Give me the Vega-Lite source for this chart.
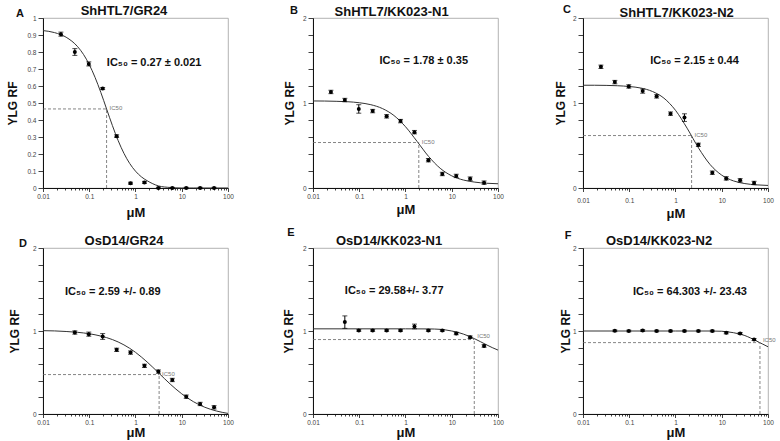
{
  "$schema": "https://vega.github.io/schema/vega-lite/v6.json",
  "background": "white",
  "padding": {"left": 6, "top": 3, "right": 5, "bottom": 2},
  "datasets": {
    "points": [
      {"p":"A","x":0.0244,"y":0.905,"lo":0.893,"hi":0.917},
      {"p":"A","x":0.0488,"y":0.8,"lo":0.78,"hi":0.82},
      {"p":"A","x":0.0977,"y":0.73,"lo":0.718,"hi":0.742},
      {"p":"A","x":0.195,"y":0.585,"lo":0.579,"hi":0.591},
      {"p":"A","x":0.391,"y":0.305,"lo":0.297,"hi":0.313},
      {"p":"A","x":0.781,"y":0.028,"lo":0.022,"hi":0.034},
      {"p":"A","x":1.5625,"y":0.033,"lo":0.027,"hi":0.039},
      {"p":"A","x":3.125,"y":0,"lo":-0.004,"hi":0.004},
      {"p":"A","x":6.25,"y":0,"lo":-0.004,"hi":0.004},
      {"p":"A","x":12.5,"y":0,"lo":-0.004,"hi":0.004},
      {"p":"A","x":25,"y":0,"lo":-0.004,"hi":0.004},
      {"p":"A","x":50,"y":0,"lo":-0.004,"hi":0.004},
      {"p":"B","x":0.0244,"y":1.13,"lo":1.11,"hi":1.15},
      {"p":"B","x":0.0488,"y":1.035,"lo":1.015,"hi":1.055},
      {"p":"B","x":0.0977,"y":0.93,"lo":0.88,"hi":0.98},
      {"p":"B","x":0.195,"y":0.905,"lo":0.885,"hi":0.925},
      {"p":"B","x":0.391,"y":0.843,"lo":0.823,"hi":0.863},
      {"p":"B","x":0.781,"y":0.787,"lo":0.767,"hi":0.807},
      {"p":"B","x":1.5625,"y":0.657,"lo":0.637,"hi":0.677},
      {"p":"B","x":3.125,"y":0.327,"lo":0.307,"hi":0.347},
      {"p":"B","x":6.25,"y":0.165,"lo":0.145,"hi":0.185},
      {"p":"B","x":12.5,"y":0.142,"lo":0.122,"hi":0.162},
      {"p":"B","x":25,"y":0.11,"lo":0.09,"hi":0.13},
      {"p":"B","x":50,"y":0.063,"lo":0.043,"hi":0.083},
      {"p":"C","x":0.0244,"y":1.426,"lo":1.406,"hi":1.446},
      {"p":"C","x":0.0488,"y":1.246,"lo":1.226,"hi":1.266},
      {"p":"C","x":0.0977,"y":1.195,"lo":1.175,"hi":1.215},
      {"p":"C","x":0.195,"y":1.14,"lo":1.115,"hi":1.165},
      {"p":"C","x":0.391,"y":1.078,"lo":1.058,"hi":1.098},
      {"p":"C","x":0.781,"y":0.875,"lo":0.855,"hi":0.895},
      {"p":"C","x":1.5625,"y":0.828,"lo":0.783,"hi":0.873},
      {"p":"C","x":3.125,"y":0.508,"lo":0.488,"hi":0.528},
      {"p":"C","x":6.25,"y":0.18,"lo":0.16,"hi":0.2},
      {"p":"C","x":12.5,"y":0.113,"lo":0.093,"hi":0.133},
      {"p":"C","x":25,"y":0.09,"lo":0.07,"hi":0.11},
      {"p":"C","x":50,"y":0.059,"lo":0.039,"hi":0.079},
      {"p":"D","x":0.0488,"y":0.982,"lo":0.962,"hi":1.002},
      {"p":"D","x":0.0977,"y":0.962,"lo":0.937,"hi":0.987},
      {"p":"D","x":0.195,"y":0.934,"lo":0.899,"hi":0.969},
      {"p":"D","x":0.391,"y":0.773,"lo":0.753,"hi":0.793},
      {"p":"D","x":0.781,"y":0.74,"lo":0.72,"hi":0.76},
      {"p":"D","x":1.5625,"y":0.58,"lo":0.56,"hi":0.6},
      {"p":"D","x":3.125,"y":0.511,"lo":0.491,"hi":0.531},
      {"p":"D","x":6.25,"y":0.41,"lo":0.39,"hi":0.43},
      {"p":"D","x":12.5,"y":0.209,"lo":0.189,"hi":0.229},
      {"p":"D","x":25,"y":0.121,"lo":0.101,"hi":0.141},
      {"p":"D","x":50,"y":0.08,"lo":0.06,"hi":0.1},
      {"p":"E","x":0.0488,"y":1.107,"lo":1.032,"hi":1.182},
      {"p":"E","x":0.0977,"y":1.006,"lo":0.996,"hi":1.016},
      {"p":"E","x":0.195,"y":1.006,"lo":0.996,"hi":1.016},
      {"p":"E","x":0.391,"y":1.006,"lo":0.996,"hi":1.016},
      {"p":"E","x":0.781,"y":1.006,"lo":0.996,"hi":1.016},
      {"p":"E","x":1.5625,"y":1.055,"lo":1.027,"hi":1.083},
      {"p":"E","x":3.125,"y":1.006,"lo":0.996,"hi":1.016},
      {"p":"E","x":6.25,"y":1.006,"lo":0.996,"hi":1.016},
      {"p":"E","x":12.5,"y":0.97,"lo":0.955,"hi":0.985},
      {"p":"E","x":25,"y":0.925,"lo":0.91,"hi":0.94},
      {"p":"E","x":50,"y":0.82,"lo":0.805,"hi":0.835},
      {"p":"F","x":0.0488,"y":1.002,"lo":0.992,"hi":1.012},
      {"p":"F","x":0.0977,"y":1.0,"lo":0.99,"hi":1.01},
      {"p":"F","x":0.195,"y":1.006,"lo":0.996,"hi":1.016},
      {"p":"F","x":0.391,"y":1.0,"lo":0.99,"hi":1.01},
      {"p":"F","x":0.781,"y":1.0,"lo":0.99,"hi":1.01},
      {"p":"F","x":1.5625,"y":1.0,"lo":0.99,"hi":1.01},
      {"p":"F","x":3.125,"y":1.0,"lo":0.99,"hi":1.01},
      {"p":"F","x":6.25,"y":1.0,"lo":0.99,"hi":1.01},
      {"p":"F","x":12.5,"y":0.978,"lo":0.966,"hi":0.99},
      {"p":"F","x":25,"y":0.97,"lo":0.958,"hi":0.982},
      {"p":"F","x":50,"y":0.897,"lo":0.885,"hi":0.909}
    ],
    "curve": [
      {"p":"A","x":0.01,"y":0.926},{"p":"A","x":0.0178,"y":0.914},{"p":"A","x":0.0316,"y":0.887},{"p":"A","x":0.0562,"y":0.831},
      {"p":"A","x":0.075,"y":0.786},{"p":"A","x":0.1,"y":0.726},{"p":"A","x":0.1334,"y":0.651},{"p":"A","x":0.178,"y":0.562},
      {"p":"A","x":0.237,"y":0.465},{"p":"A","x":0.316,"y":0.368},{"p":"A","x":0.4217,"y":0.279},{"p":"A","x":0.562,"y":0.204},
      {"p":"A","x":0.75,"y":0.144},{"p":"A","x":1,"y":0.099},{"p":"A","x":1.334,"y":0.066},{"p":"A","x":1.78,"y":0.043},
      {"p":"A","x":2.371,"y":0.025},{"p":"A","x":3.16,"y":0.012},{"p":"A","x":5.62,"y":0.003},{"p":"A","x":10,"y":0},
      {"p":"A","x":17.8,"y":0},{"p":"A","x":31.6,"y":0},{"p":"A","x":56.2,"y":0},{"p":"A","x":100,"y":0},
      {"p":"B","x":0.01,"y":1.024},{"p":"B","x":0.0178,"y":1.023},{"p":"B","x":0.0316,"y":1.02},{"p":"B","x":0.0562,"y":1.015},
      {"p":"B","x":0.1,"y":1.003},{"p":"B","x":0.178,"y":0.98},{"p":"B","x":0.316,"y":0.935},{"p":"B","x":0.562,"y":0.853},
      {"p":"B","x":1,"y":0.721},{"p":"B","x":1.78,"y":0.548},{"p":"B","x":3.16,"y":0.371},{"p":"B","x":5.62,"y":0.232},
      {"p":"B","x":10,"y":0.143},{"p":"B","x":17.8,"y":0.094},{"p":"B","x":31.6,"y":0.069},{"p":"B","x":56.2,"y":0.056},
      {"p":"B","x":100,"y":0.05},
      {"p":"C","x":0.01,"y":1.209},{"p":"C","x":0.0178,"y":1.209},{"p":"C","x":0.0316,"y":1.207},{"p":"C","x":0.0562,"y":1.203},
      {"p":"C","x":0.1,"y":1.194},{"p":"C","x":0.178,"y":1.176},{"p":"C","x":0.316,"y":1.136},{"p":"C","x":0.562,"y":1.057},
      {"p":"C","x":1,"y":0.914},{"p":"C","x":1.78,"y":0.704},{"p":"C","x":3.16,"y":0.469},{"p":"C","x":5.62,"y":0.275},
      {"p":"C","x":10,"y":0.151},{"p":"C","x":17.8,"y":0.084},{"p":"C","x":31.6,"y":0.052},{"p":"C","x":56.2,"y":0.037},
      {"p":"C","x":100,"y":0.03},
      {"p":"D","x":0.01,"y":1.004},{"p":"D","x":0.0178,"y":1.001},{"p":"D","x":0.0316,"y":0.994},{"p":"D","x":0.0562,"y":0.984},
      {"p":"D","x":0.1,"y":0.967},{"p":"D","x":0.178,"y":0.939},{"p":"D","x":0.316,"y":0.897},{"p":"D","x":0.562,"y":0.833},
      {"p":"D","x":1,"y":0.743},{"p":"D","x":1.78,"y":0.627},{"p":"D","x":3.16,"y":0.495},{"p":"D","x":5.62,"y":0.361},
      {"p":"D","x":10,"y":0.243},{"p":"D","x":17.8,"y":0.149},{"p":"D","x":31.6,"y":0.081},{"p":"D","x":56.2,"y":0.036},
      {"p":"D","x":100,"y":0.007},
      {"p":"E","x":0.01,"y":1.026},{"p":"E","x":0.1,"y":1.026},{"p":"E","x":1,"y":1.026},{"p":"E","x":3.16,"y":1.025},
      {"p":"E","x":5.62,"y":1.02},{"p":"E","x":10,"y":1.0},{"p":"E","x":13.3,"y":0.985},{"p":"E","x":17.8,"y":0.963},
      {"p":"E","x":23.7,"y":0.937},{"p":"E","x":31.6,"y":0.905},{"p":"E","x":42.2,"y":0.87},{"p":"E","x":56.2,"y":0.834},
      {"p":"E","x":75,"y":0.8},{"p":"E","x":100,"y":0.77},
      {"p":"F","x":0.01,"y":1.0},{"p":"F","x":0.1,"y":1.0},{"p":"F","x":1,"y":1.0},{"p":"F","x":5.62,"y":1.0},
      {"p":"F","x":10,"y":0.997},{"p":"F","x":13.3,"y":0.99},{"p":"F","x":17.8,"y":0.98},{"p":"F","x":23.7,"y":0.965},
      {"p":"F","x":31.6,"y":0.945},{"p":"F","x":42.2,"y":0.915},{"p":"F","x":56.2,"y":0.88},{"p":"F","x":75,"y":0.845},
      {"p":"F","x":100,"y":0.81}
    ],
    "ic50": [
      {"p":"A","x":0.237,"y":0.465,"label":"IC50"},
      {"p":"B","x":1.94,"y":0.535,"label":"IC50"},
      {"p":"C","x":2.23,"y":0.617,"label":"IC50"},
      {"p":"D","x":3.24,"y":0.475,"label":"IC50"},
      {"p":"E","x":30.7,"y":0.897,"label":"IC50"},
      {"p":"F","x":67,"y":0.86,"label":"IC50"}
    ],
    "notes": [
      {"p":"A","letter":"A","name":"ShHTL7/GR24","note":"IC₅₀ = 0.27 ± 0.021","x":0.24,"y":0.735},
      {"p":"B","letter":"B","name":"ShHTL7/KK023-N1","note":"IC₅₀ = 1.78 ± 0.35","x":0.274,"y":1.49},
      {"p":"C","letter":"C","name":"ShHTL7/KK023-N2","note":"IC₅₀ =  2.15 ± 0.44","x":0.285,"y":1.5},
      {"p":"D","letter":"D","name":"OsD14/GR24","note":"IC₅₀ = 2.59 +/- 0.89","x":0.0298,"y":1.465},
      {"p":"E","letter":"E","name":"OsD14/KK023-N1","note":"IC₅₀ = 29.58+/- 3.77","x":0.0488,"y":1.48},
      {"p":"F","letter":"F","name":"OsD14/KK023-N2","note":"IC₅₀ = 64.303 +/- 23.43","x":0.1205,"y":1.475}
    ]
  },
  "columns": 3,
  "spacing": {"row": 60, "column": 85},
  "bounds": "flush",
  "concat": [
    {
      "width": 185, "height": 170,
      "encoding": {
        "x": {"field": "x", "type": "quantitative", "scale": {"type": "log", "domain": [0.01, 100]},
          "axis": {"title": "μM", "titlePadding": 6, "values": [0.01,0.02,0.03,0.04,0.05,0.06,0.07,0.08,0.09,0.1,0.2,0.3,0.4,0.5,0.6,0.7,0.8,0.9,1,2,3,4,5,6,7,8,9,10,20,30,40,50,60,70,80,90,100], "format": "~g", "labelExpr": "indexof([0.01,0.1,1,10,100], datum.value) >= 0 ? datum.label : ''", "tickSize": {"condition": {"test": "indexof([0.01,0.1,1,10,100], datum.value) >= 0", "value": 3.5}, "value": 2}}},
        "y": {"field": "y", "type": "quantitative", "scale": {"domain": [0, 1], "nice": false},
          "axis": {"title": "YLG RF", "titlePadding": 7, "values": [0,0.1,0.2,0.3,0.4,0.5,0.6,0.7,0.8,0.9,1], "format": "~g"}}
      },
      "layer": [
        {"data": {"name": "curve"}, "transform": [{"filter": "datum.p === 'A'"}], "mark": {"type": "line", "interpolate": "monotone", "color": "#333", "strokeWidth": 1}},
        {"data": {"name": "ic50"}, "transform": [{"filter": "datum.p === 'A'"}], "mark": {"type": "rule", "strokeDash": [3, 2], "color": "#666", "strokeWidth": 0.8}, "encoding": {"x": {"datum": 0.01}, "x2": {"field": "x"}}},
        {"data": {"name": "ic50"}, "transform": [{"filter": "datum.p === 'A'"}], "mark": {"type": "rule", "strokeDash": [3, 2], "color": "#666", "strokeWidth": 0.8}, "encoding": {"y": {"datum": 0}, "y2": {"field": "y"}}},
        {"data": {"name": "ic50"}, "transform": [{"filter": "datum.p === 'A'"}], "mark": {"type": "text", "align": "left", "baseline": "middle", "dx": 3, "dy": -1, "fontSize": 6, "color": "#777"}, "encoding": {"text": {"field": "label"}}},
        {"data": {"name": "points"}, "transform": [{"filter": "datum.p === 'A'"}], "mark": {"type": "errorbar", "ticks": {"size": 5}, "color": "black", "thickness": 1}, "encoding": {"y": {"field": "lo", "type": "quantitative"}, "y2": {"field": "hi"}}},
        {"data": {"name": "points"}, "transform": [{"filter": "datum.p === 'A'"}], "mark": {"type": "circle", "size": 16, "color": "black", "opacity": 1}},
        {"data": {"name": "notes"}, "transform": [{"filter": "datum.p === 'A'"}], "mark": {"type": "text", "align": "left", "baseline": "middle", "fontSize": 11, "fontWeight": "bold", "color": "#111"}, "encoding": {"text": {"field": "note"}}},
        {"data": {"name": "notes"}, "transform": [{"filter": "datum.p === 'A'"}], "mark": {"type": "text", "align": "center", "baseline": "middle", "fontSize": 13, "fontWeight": "bold", "color": "#111"}, "encoding": {"x": {"datum": 0.564, "type": "quantitative"}, "y": {"datum": 1.041, "type": "quantitative"}, "text": {"field": "name"}}},
        {"data": {"name": "notes"}, "transform": [{"filter": "datum.p === 'A'"}], "mark": {"type": "text", "align": "center", "baseline": "middle", "fontSize": 11, "fontWeight": "bold", "color": "#111"}, "encoding": {"x": {"datum": 0.00318, "type": "quantitative"}, "y": {"datum": 1.024, "type": "quantitative"}, "text": {"field": "letter"}}}
      ]
    },
    {
      "width": 185, "height": 170,
      "encoding": {
        "x": {"field": "x", "type": "quantitative", "scale": {"type": "log", "domain": [0.01, 100]},
          "axis": {"title": "μM", "titlePadding": 3, "values": [0.01,0.02,0.03,0.04,0.05,0.06,0.07,0.08,0.09,0.1,0.2,0.3,0.4,0.5,0.6,0.7,0.8,0.9,1,2,3,4,5,6,7,8,9,10,20,30,40,50,60,70,80,90,100], "format": "~g", "labelExpr": "indexof([0.01,0.1,1,10,100], datum.value) >= 0 ? datum.label : ''", "tickSize": {"condition": {"test": "indexof([0.01,0.1,1,10,100], datum.value) >= 0", "value": 3.5}, "value": 2}}},
        "y": {"field": "y", "type": "quantitative", "scale": {"domain": [0, 2], "nice": false},
          "axis": {"title": "YLG RF", "titlePadding": 6, "values": [0,0.2,0.4,0.6,0.8,1,1.2,1.4,1.6,1.8,2], "format": "~g", "labelExpr": "datum.value % 1 === 0 ? datum.label : ''"}}
      },
      "layer": [
        {"data": {"name": "curve"}, "transform": [{"filter": "datum.p === 'B'"}], "mark": {"type": "line", "interpolate": "monotone", "color": "#333", "strokeWidth": 1}},
        {"data": {"name": "ic50"}, "transform": [{"filter": "datum.p === 'B'"}], "mark": {"type": "rule", "strokeDash": [3, 2], "color": "#666", "strokeWidth": 0.8}, "encoding": {"x": {"datum": 0.01}, "x2": {"field": "x"}}},
        {"data": {"name": "ic50"}, "transform": [{"filter": "datum.p === 'B'"}], "mark": {"type": "rule", "strokeDash": [3, 2], "color": "#666", "strokeWidth": 0.8}, "encoding": {"y": {"datum": 0}, "y2": {"field": "y"}}},
        {"data": {"name": "ic50"}, "transform": [{"filter": "datum.p === 'B'"}], "mark": {"type": "text", "align": "left", "baseline": "middle", "dx": 3, "dy": -1, "fontSize": 6, "color": "#777"}, "encoding": {"text": {"field": "label"}}},
        {"data": {"name": "points"}, "transform": [{"filter": "datum.p === 'B'"}], "mark": {"type": "errorbar", "ticks": {"size": 5}, "color": "black", "thickness": 1}, "encoding": {"y": {"field": "lo", "type": "quantitative"}, "y2": {"field": "hi"}}},
        {"data": {"name": "points"}, "transform": [{"filter": "datum.p === 'B'"}], "mark": {"type": "circle", "size": 16, "color": "black", "opacity": 1}},
        {"data": {"name": "notes"}, "transform": [{"filter": "datum.p === 'B'"}], "mark": {"type": "text", "align": "left", "baseline": "middle", "fontSize": 11, "fontWeight": "bold", "color": "#111"}, "encoding": {"text": {"field": "note"}}},
        {"data": {"name": "notes"}, "transform": [{"filter": "datum.p === 'B'"}], "mark": {"type": "text", "align": "center", "baseline": "middle", "fontSize": 13, "fontWeight": "bold", "color": "#111"}, "encoding": {"x": {"datum": 0.502, "type": "quantitative"}, "y": {"datum": 2.075, "type": "quantitative"}, "text": {"field": "name"}}},
        {"data": {"name": "notes"}, "transform": [{"filter": "datum.p === 'B'"}], "mark": {"type": "text", "align": "center", "baseline": "middle", "fontSize": 11, "fontWeight": "bold", "color": "#111"}, "encoding": {"x": {"datum": 0.0039, "type": "quantitative"}, "y": {"datum": 2.08, "type": "quantitative"}, "text": {"field": "letter"}}}
      ]
    },
    {
      "width": 185, "height": 170,
      "encoding": {
        "x": {"field": "x", "type": "quantitative", "scale": {"type": "log", "domain": [0.01, 100]},
          "axis": {"title": "μM", "titlePadding": 3, "labelPadding": 6, "values": [0.01,0.02,0.03,0.04,0.05,0.06,0.07,0.08,0.09,0.1,0.2,0.3,0.4,0.5,0.6,0.7,0.8,0.9,1,2,3,4,5,6,7,8,9,10,20,30,40,50,60,70,80,90,100], "format": "~g", "labelExpr": "indexof([0.01,0.1,1,10,100], datum.value) >= 0 ? datum.label : ''", "tickSize": {"condition": {"test": "indexof([0.01,0.1,1,10,100], datum.value) >= 0", "value": 3.5}, "value": 2}}},
        "y": {"field": "y", "type": "quantitative", "scale": {"domain": [0, 2], "nice": false},
          "axis": {"title": "YLG RF", "titlePadding": 5, "values": [0,0.2,0.4,0.6,0.8,1,1.2,1.4,1.6,1.8,2], "format": "~g", "labelExpr": "datum.value % 1 === 0 ? datum.label : ''"}}
      },
      "layer": [
        {"data": {"name": "curve"}, "transform": [{"filter": "datum.p === 'C'"}], "mark": {"type": "line", "interpolate": "monotone", "color": "#333", "strokeWidth": 1}},
        {"data": {"name": "ic50"}, "transform": [{"filter": "datum.p === 'C'"}], "mark": {"type": "rule", "strokeDash": [3, 2], "color": "#666", "strokeWidth": 0.8}, "encoding": {"x": {"datum": 0.01}, "x2": {"field": "x"}}},
        {"data": {"name": "ic50"}, "transform": [{"filter": "datum.p === 'C'"}], "mark": {"type": "rule", "strokeDash": [3, 2], "color": "#666", "strokeWidth": 0.8}, "encoding": {"y": {"datum": 0}, "y2": {"field": "y"}}},
        {"data": {"name": "ic50"}, "transform": [{"filter": "datum.p === 'C'"}], "mark": {"type": "text", "align": "left", "baseline": "middle", "dx": 3, "dy": -1, "fontSize": 6, "color": "#777"}, "encoding": {"text": {"field": "label"}}},
        {"data": {"name": "points"}, "transform": [{"filter": "datum.p === 'C'"}], "mark": {"type": "errorbar", "ticks": {"size": 5}, "color": "black", "thickness": 1}, "encoding": {"y": {"field": "lo", "type": "quantitative"}, "y2": {"field": "hi"}}},
        {"data": {"name": "points"}, "transform": [{"filter": "datum.p === 'C'"}], "mark": {"type": "circle", "size": 16, "color": "black", "opacity": 1}},
        {"data": {"name": "notes"}, "transform": [{"filter": "datum.p === 'C'"}], "mark": {"type": "text", "align": "left", "baseline": "middle", "fontSize": 11, "fontWeight": "bold", "color": "#111"}, "encoding": {"text": {"field": "note"}}},
        {"data": {"name": "notes"}, "transform": [{"filter": "datum.p === 'C'"}], "mark": {"type": "text", "align": "center", "baseline": "middle", "fontSize": 13, "fontWeight": "bold", "color": "#111"}, "encoding": {"x": {"datum": 1.06, "type": "quantitative"}, "y": {"datum": 2.062, "type": "quantitative"}, "text": {"field": "name"}}},
        {"data": {"name": "notes"}, "transform": [{"filter": "datum.p === 'C'"}], "mark": {"type": "text", "align": "center", "baseline": "middle", "fontSize": 11, "fontWeight": "bold", "color": "#111"}, "encoding": {"x": {"datum": 0.0045, "type": "quantitative"}, "y": {"datum": 2.094, "type": "quantitative"}, "text": {"field": "letter"}}}
      ]
    },
    {
      "width": 185, "height": 166,
      "encoding": {
        "x": {"field": "x", "type": "quantitative", "scale": {"type": "log", "domain": [0.01, 100]},
          "axis": {"title": "μM", "titlePadding": 0, "values": [0.01,0.02,0.03,0.04,0.05,0.06,0.07,0.08,0.09,0.1,0.2,0.3,0.4,0.5,0.6,0.7,0.8,0.9,1,2,3,4,5,6,7,8,9,10,20,30,40,50,60,70,80,90,100], "format": "~g", "labelExpr": "indexof([0.01,0.1,1,10,100], datum.value) >= 0 ? datum.label : ''", "tickSize": {"condition": {"test": "indexof([0.01,0.1,1,10,100], datum.value) >= 0", "value": 3.5}, "value": 2}}},
        "y": {"field": "y", "type": "quantitative", "scale": {"domain": [0, 2], "nice": false},
          "axis": {"title": "YLG RF", "titlePadding": 11, "values": [0,0.2,0.4,0.6,0.8,1,1.2,1.4,1.6,1.8,2], "format": "~g", "labelExpr": "datum.value % 1 === 0 ? datum.label : ''"}}
      },
      "layer": [
        {"data": {"name": "curve"}, "transform": [{"filter": "datum.p === 'D'"}], "mark": {"type": "line", "interpolate": "monotone", "color": "#333", "strokeWidth": 1}},
        {"data": {"name": "ic50"}, "transform": [{"filter": "datum.p === 'D'"}], "mark": {"type": "rule", "strokeDash": [3, 2], "color": "#666", "strokeWidth": 0.8}, "encoding": {"x": {"datum": 0.01}, "x2": {"field": "x"}}},
        {"data": {"name": "ic50"}, "transform": [{"filter": "datum.p === 'D'"}], "mark": {"type": "rule", "strokeDash": [3, 2], "color": "#666", "strokeWidth": 0.8}, "encoding": {"y": {"datum": 0}, "y2": {"field": "y"}}},
        {"data": {"name": "ic50"}, "transform": [{"filter": "datum.p === 'D'"}], "mark": {"type": "text", "align": "left", "baseline": "middle", "dx": 3, "dy": -1, "fontSize": 6, "color": "#777"}, "encoding": {"text": {"field": "label"}}},
        {"data": {"name": "points"}, "transform": [{"filter": "datum.p === 'D'"}], "mark": {"type": "errorbar", "ticks": {"size": 5}, "color": "black", "thickness": 1}, "encoding": {"y": {"field": "lo", "type": "quantitative"}, "y2": {"field": "hi"}}},
        {"data": {"name": "points"}, "transform": [{"filter": "datum.p === 'D'"}], "mark": {"type": "circle", "size": 16, "color": "black", "opacity": 1}},
        {"data": {"name": "notes"}, "transform": [{"filter": "datum.p === 'D'"}], "mark": {"type": "text", "align": "left", "baseline": "middle", "fontSize": 11, "fontWeight": "bold", "color": "#111"}, "encoding": {"text": {"field": "note"}}},
        {"data": {"name": "notes"}, "transform": [{"filter": "datum.p === 'D'"}], "mark": {"type": "text", "align": "center", "baseline": "middle", "fontSize": 13, "fontWeight": "bold", "color": "#111"}, "encoding": {"x": {"datum": 0.564, "type": "quantitative"}, "y": {"datum": 2.084, "type": "quantitative"}, "text": {"field": "name"}}},
        {"data": {"name": "notes"}, "transform": [{"filter": "datum.p === 'D'"}], "mark": {"type": "text", "align": "center", "baseline": "middle", "fontSize": 11, "fontWeight": "bold", "color": "#111"}, "encoding": {"x": {"datum": 0.0037, "type": "quantitative"}, "y": {"datum": 2.048, "type": "quantitative"}, "text": {"field": "letter"}}}
      ]
    },
    {
      "width": 185, "height": 166,
      "encoding": {
        "x": {"field": "x", "type": "quantitative", "scale": {"type": "log", "domain": [0.01, 100]},
          "axis": {"title": "μM", "titlePadding": 0, "values": [0.01,0.02,0.03,0.04,0.05,0.06,0.07,0.08,0.09,0.1,0.2,0.3,0.4,0.5,0.6,0.7,0.8,0.9,1,2,3,4,5,6,7,8,9,10,20,30,40,50,60,70,80,90,100], "format": "~g", "labelExpr": "indexof([0.01,0.1,1,10,100], datum.value) >= 0 ? datum.label : ''", "tickSize": {"condition": {"test": "indexof([0.01,0.1,1,10,100], datum.value) >= 0", "value": 3.5}, "value": 2}}},
        "y": {"field": "y", "type": "quantitative", "scale": {"domain": [0, 2], "nice": false},
          "axis": {"title": "YLG RF", "titlePadding": 7, "values": [0,0.2,0.4,0.6,0.8,1,1.2,1.4,1.6,1.8,2], "format": "~g", "labelExpr": "datum.value % 1 === 0 ? datum.label : ''"}}
      },
      "layer": [
        {"data": {"name": "curve"}, "transform": [{"filter": "datum.p === 'E'"}], "mark": {"type": "line", "interpolate": "monotone", "color": "#333", "strokeWidth": 1}},
        {"data": {"name": "ic50"}, "transform": [{"filter": "datum.p === 'E'"}], "mark": {"type": "rule", "strokeDash": [3, 2], "color": "#666", "strokeWidth": 0.8}, "encoding": {"x": {"datum": 0.01}, "x2": {"field": "x"}}},
        {"data": {"name": "ic50"}, "transform": [{"filter": "datum.p === 'E'"}], "mark": {"type": "rule", "strokeDash": [3, 2], "color": "#666", "strokeWidth": 0.8}, "encoding": {"y": {"datum": 0}, "y2": {"field": "y"}}},
        {"data": {"name": "ic50"}, "transform": [{"filter": "datum.p === 'E'"}], "mark": {"type": "text", "align": "left", "baseline": "middle", "dx": 3, "dy": -4, "fontSize": 6, "color": "#777"}, "encoding": {"text": {"field": "label"}}},
        {"data": {"name": "points"}, "transform": [{"filter": "datum.p === 'E'"}], "mark": {"type": "errorbar", "ticks": {"size": 5}, "color": "black", "thickness": 1}, "encoding": {"y": {"field": "lo", "type": "quantitative"}, "y2": {"field": "hi"}}},
        {"data": {"name": "points"}, "transform": [{"filter": "datum.p === 'E'"}], "mark": {"type": "circle", "size": 16, "color": "black", "opacity": 1}},
        {"data": {"name": "notes"}, "transform": [{"filter": "datum.p === 'E'"}], "mark": {"type": "text", "align": "left", "baseline": "middle", "fontSize": 11, "fontWeight": "bold", "color": "#111"}, "encoding": {"text": {"field": "note"}}},
        {"data": {"name": "notes"}, "transform": [{"filter": "datum.p === 'E'"}], "mark": {"type": "text", "align": "center", "baseline": "middle", "fontSize": 13, "fontWeight": "bold", "color": "#111"}, "encoding": {"x": {"datum": 0.44, "type": "quantitative"}, "y": {"datum": 2.088, "type": "quantitative"}, "text": {"field": "name"}}},
        {"data": {"name": "notes"}, "transform": [{"filter": "datum.p === 'E'"}], "mark": {"type": "text", "align": "center", "baseline": "middle", "fontSize": 11, "fontWeight": "bold", "color": "#111"}, "encoding": {"x": {"datum": 0.00334, "type": "quantitative"}, "y": {"datum": 2.18, "type": "quantitative"}, "text": {"field": "letter"}}}
      ]
    },
    {
      "width": 185, "height": 166,
      "encoding": {
        "x": {"field": "x", "type": "quantitative", "scale": {"type": "log", "domain": [0.01, 100]},
          "axis": {"title": "μM", "titlePadding": 0, "values": [0.01,0.02,0.03,0.04,0.05,0.06,0.07,0.08,0.09,0.1,0.2,0.3,0.4,0.5,0.6,0.7,0.8,0.9,1,2,3,4,5,6,7,8,9,10,20,30,40,50,60,70,80,90,100], "format": "~g", "labelExpr": "indexof([0.01,0.1,1,10,100], datum.value) >= 0 ? datum.label : ''", "tickSize": {"condition": {"test": "indexof([0.01,0.1,1,10,100], datum.value) >= 0", "value": 3.5}, "value": 2}}},
        "y": {"field": "y", "type": "quantitative", "scale": {"domain": [0, 2], "nice": false},
          "axis": {"title": "YLG RF", "titlePadding": 0, "values": [0,0.2,0.4,0.6,0.8,1,1.2,1.4,1.6,1.8,2], "format": "~g", "labelExpr": "datum.value % 1 === 0 ? datum.label : ''"}}
      },
      "layer": [
        {"data": {"name": "curve"}, "transform": [{"filter": "datum.p === 'F'"}], "mark": {"type": "line", "interpolate": "monotone", "color": "#333", "strokeWidth": 1}},
        {"data": {"name": "ic50"}, "transform": [{"filter": "datum.p === 'F'"}], "mark": {"type": "rule", "strokeDash": [3, 2], "color": "#666", "strokeWidth": 0.8}, "encoding": {"x": {"datum": 0.01}, "x2": {"field": "x"}}},
        {"data": {"name": "ic50"}, "transform": [{"filter": "datum.p === 'F'"}], "mark": {"type": "rule", "strokeDash": [3, 2], "color": "#666", "strokeWidth": 0.8}, "encoding": {"y": {"datum": 0}, "y2": {"field": "y"}}},
        {"data": {"name": "ic50"}, "transform": [{"filter": "datum.p === 'F'"}], "mark": {"type": "text", "align": "left", "baseline": "middle", "dx": 3, "dy": -3, "fontSize": 6, "color": "#777"}, "encoding": {"text": {"field": "label"}}},
        {"data": {"name": "points"}, "transform": [{"filter": "datum.p === 'F'"}], "mark": {"type": "errorbar", "ticks": {"size": 5}, "color": "black", "thickness": 1}, "encoding": {"y": {"field": "lo", "type": "quantitative"}, "y2": {"field": "hi"}}},
        {"data": {"name": "points"}, "transform": [{"filter": "datum.p === 'F'"}], "mark": {"type": "circle", "size": 16, "color": "black", "opacity": 1}},
        {"data": {"name": "notes"}, "transform": [{"filter": "datum.p === 'F'"}], "mark": {"type": "text", "align": "left", "baseline": "middle", "fontSize": 11, "fontWeight": "bold", "color": "#111"}, "encoding": {"text": {"field": "note"}}},
        {"data": {"name": "notes"}, "transform": [{"filter": "datum.p === 'F'"}], "mark": {"type": "text", "align": "center", "baseline": "middle", "fontSize": 13, "fontWeight": "bold", "color": "#111"}, "encoding": {"x": {"datum": 0.44, "type": "quantitative"}, "y": {"datum": 2.088, "type": "quantitative"}, "text": {"field": "name"}}},
        {"data": {"name": "notes"}, "transform": [{"filter": "datum.p === 'F'"}], "mark": {"type": "text", "align": "center", "baseline": "middle", "fontSize": 11, "fontWeight": "bold", "color": "#111"}, "encoding": {"x": {"datum": 0.00474, "type": "quantitative"}, "y": {"datum": 2.145, "type": "quantitative"}, "text": {"field": "letter"}}}
      ]
    }
  ],
  "config": {
    "font": "Liberation Sans",
    "view": {"stroke": "#a0a0a0", "strokeWidth": 0.8},
    "axis": {"grid": false, "domainColor": "#111", "domainWidth": 1, "tickColor": "#111", "tickWidth": 0.8, "labelFontSize": 6.5, "labelColor": "#444", "labelPadding": 2, "labelFlush": false, "labelOverlap": false, "titleFontSize": 12, "titleFontWeight": "bold", "titleColor": "#111"},
    "axisX": {"titleFontSize": 13}
  }
}
